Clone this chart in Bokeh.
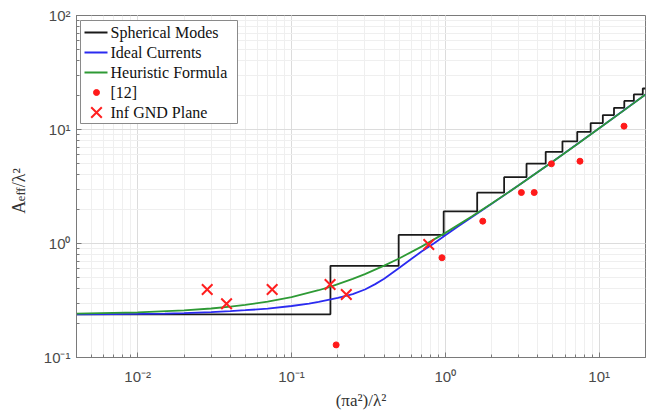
import numpy as np
from bokeh.plotting import figure
from bokeh.models import (CustomJSTickFormatter, Range1d, LinearScale,
                          LogAxis, FixedTicker)
from bokeh.embed import file_html
from bokeh.resources import INLINE

# ---------------- data ----------------
# Spherical modes staircase: step edges in x and level values
modes_x = [0.004, 0.179, 0.497, 0.975, 1.61, 2.41, 3.37, 4.49, 5.77, 7.20,
           8.80, 10.56, 12.48, 14.56, 16.8, 19.2, 20.0]
modes_y = [0.239, 0.637, 1.19, 1.91, 2.79, 3.82, 5.01, 6.37, 7.88, 9.55,
           11.38, 13.37, 15.5, 17.8, 20.3, 22.9, 22.9]

# Ideal currents (blue)
ideal_x = [0.004, 0.007, 0.01, 0.015, 0.02, 0.03, 0.04, 0.05, 0.07, 0.1,
           0.13, 0.15, 0.2, 0.25, 0.3, 0.35, 0.4, 0.5, 0.6, 0.7, 0.85, 1.0,
           1.2, 1.5, 2.0, 3.0, 5.0, 10.0, 20.0]
ideal_y = [0.2395, 0.240, 0.241, 0.243, 0.245, 0.250, 0.255, 0.260, 0.268,
           0.283, 0.297, 0.308, 0.333, 0.360, 0.395, 0.440, 0.490, 0.610,
           0.730, 0.850, 1.010, 1.180, 1.400, 1.720, 2.230, 3.240, 5.240,
           10.24, 20.24]

# Heuristic formula (green)
heur_x = [0.004, 0.01, 0.02, 0.03, 0.04, 0.05, 0.07, 0.1, 0.15, 0.18, 0.25,
          0.3, 0.4, 0.5, 0.7, 1.0, 1.5, 2.0, 3.0, 5.0, 7.0, 10.0, 15.0, 20.0]
heur_y = [0.243, 0.249, 0.259, 0.269, 0.279, 0.289, 0.309, 0.339, 0.389,
          0.419, 0.489, 0.539, 0.639, 0.739, 0.939, 1.239, 1.739, 2.239,
          3.239, 5.239, 7.239, 10.24, 15.24, 20.24]

# [12] (red dots)
ref12_x = [0.195, 0.95, 1.75, 3.12, 3.78, 4.89, 7.5, 14.5]
ref12_y = [0.129, 0.75, 1.57, 2.80, 2.80, 5.0, 5.27, 10.7]

# Inf GND Plane (red crosses)
gnd_x = [0.0283, 0.0378, 0.0748, 0.178, 0.227, 0.78]
gnd_y = [0.395, 0.296, 0.395, 0.437, 0.357, 0.98]

legend_labels = ["Spherical Modes", "Ideal Currents", "Heuristic Formula",
                 "[12]", "Inf GND Plane"]

# ---------------- figure ----------------
X0, X1 = 0.004, 20.0
Y0, Y1 = 0.1, 100.0
W, H = 646, 417
FL, FR, FT, FB = 76, 645, 15, 357      # frame edges in page pixels
NB = "\u00a0"

p = figure(width=W, height=H, x_axis_type="log", y_axis_type="log",
           x_range=Range1d(X0, X1), y_range=Range1d(Y0, Y1),
           output_backend="svg", toolbar_location=None,
           min_border_left=FL, min_border_right=W - FR,
           min_border_top=FT, min_border_bottom=H - FB)
p.background_fill_color = "white"
p.border_fill_color = "white"
p.outline_line_color = "#7a7a7a"
p.outline_line_width = 1

for ax in (p.xaxis[0], p.yaxis[0]):
    ax.axis_line_color = "#7a7a7a"
    ax.major_tick_line_color = "#7a7a7a"
    ax.minor_tick_line_color = "#7a7a7a"
    ax.major_tick_in = 5
    ax.major_tick_out = 0
    ax.minor_tick_in = 3
    ax.minor_tick_out = 0
    ax.major_label_text_font = "Liberation Sans"
    ax.major_label_text_font_size = "15px"
    ax.major_label_text_color = "#4a4a4a"
    ax.formatter = CustomJSTickFormatter(code="""
        const e = Math.round(Math.log10(tick));
        const sup = {'-':'\u207b','0':'\u2070','1':'\u00b9','2':'\u00b2','3':'\u00b3'};
        return '10' + String(e).split('').map(c => sup[c]).join('');
    """)

p.xaxis.major_label_standoff = 10
p.yaxis.major_label_standoff = 6

p.xaxis.axis_label = "(\u03c0a\u00b2)/\u03bb\u00b2"
p.xaxis.axis_label_text_font = "Liberation Serif"
p.xaxis.axis_label_text_font_size = "17px"
p.xaxis.axis_label_text_font_style = "normal"
p.xaxis.axis_label_text_color = "#333333"
p.xaxis.axis_label_standoff = 3

# y label: "A  /λ²" on the main axis, subscript "eff" on a label-only axis
p.yaxis.axis_label = "A" + NB * 3 + "/\u03bb\u00b2" + NB * 2
p.yaxis.axis_label_text_font = "Liberation Serif"
p.yaxis.axis_label_text_font_size = "18px"
p.yaxis.axis_label_text_font_style = "normal"
p.yaxis.axis_label_text_color = "#333333"
p.yaxis.axis_label_standoff = 12

sub_axis = LogAxis(ticker=FixedTicker(ticks=[]), axis_label="eff" + NB * 5,
                   axis_line_color=None, major_tick_line_color=None,
                   minor_tick_line_color=None, major_tick_in=0, major_tick_out=0,
                   minor_tick_in=0, minor_tick_out=0, major_label_standoff=0,
                   axis_label_standoff=-22,
                   axis_label_text_font="Liberation Serif",
                   axis_label_text_font_size="12.5px",
                   axis_label_text_font_style="normal",
                   axis_label_text_color="#333333")
p.add_layout(sub_axis, "left")

for g in (p.xgrid[0], p.ygrid[0]):
    g.grid_line_color = "#dcdcdc"
    g.grid_line_width = 1
    g.minor_grid_line_color = "#efefef"
    g.minor_grid_line_width = 1

# ---------------- glyphs ----------------
p.step(modes_x, modes_y, mode="after", line_color="#1a1a1a", line_width=1.8)
p.line(ideal_x, ideal_y, line_color="#2b2bf0", line_width=1.8)
p.line(heur_x, heur_y, line_color="#2e9a35", line_width=1.8)
p.scatter(ref12_x, ref12_y, marker="circle", size=6,
          fill_color="#ff1a1a", line_color="#ff1a1a")
p.scatter(gnd_x, gnd_y, marker="x", size=15, line_color="#ff2020", line_width=2)

# ---------------- legend (drawn in page-pixel space) ----------------
p.extra_x_ranges = {"px": Range1d(FL, FR)}
p.extra_x_scales = {"px": LinearScale()}
p.extra_y_ranges = {"py": Range1d(FB, FT)}
p.extra_y_scales = {"py": LinearScale()}
kw = dict(x_range_name="px", y_range_name="py")

lx0, lx1, ly0, ly1 = 80, 237, 20, 123
rows = [32, 52, 72, 92, 112]
p.quad(left=[lx0], right=[lx1], top=[ly0], bottom=[ly1], fill_color="white",
       line_color="#8a8a8a", line_width=1, **kw)
for yy, col in zip(rows[:3], ["#1a1a1a", "#2b2bf0", "#2e9a35"]):
    p.segment(x0=[84], x1=[107], y0=[yy], y1=[yy], line_color=col,
              line_width=1.8, **kw)
p.scatter(x=[96], y=[rows[3]], marker="circle", size=6, fill_color="#ff1a1a",
          line_color="#ff1a1a", **kw)
p.scatter(x=[96], y=[rows[4]], marker="x", size=15, line_color="#ff2020",
          line_width=2, **kw)
p.text(x=[110] * 5, y=rows, text=legend_labels, text_baseline="middle",
       text_align="left", text_font={"value": "Liberation Serif"},
       text_font_size="16px", text_color="#111111", **kw)

open("out.html", "w").write(file_html(p, INLINE))
